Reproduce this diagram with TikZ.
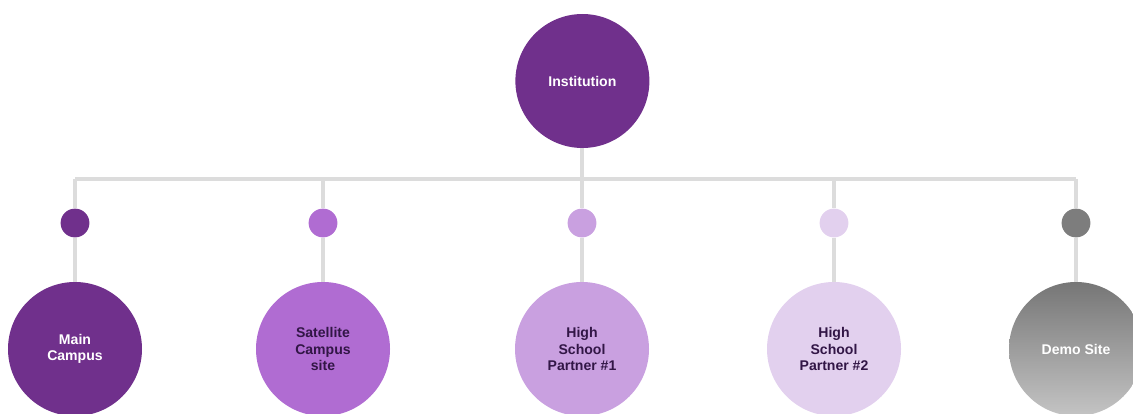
\documentclass[tikz,border=0pt]{standalone}
\usepackage{fontspec}
\setmainfont{Liberation Sans}
\usepackage{xcolor}
\usepackage{tikz}
\usetikzlibrary{positioning, backgrounds, calc}
\definecolor{darkpurple}{RGB}{112,48,140}
\definecolor{midpurple}{RGB}{176,108,210}
\definecolor{softpurple}{RGB}{201,160,224}
\definecolor{palepurple}{RGB}{226,208,238}
\definecolor{demotop}{RGB}{118,118,118}
\definecolor{demobottom}{RGB}{196,196,196}
\definecolor{demodot}{RGB}{125,125,125}
\definecolor{buscolor}{RGB}{220,220,220}
\definecolor{inktext}{RGB}{50,22,70}
\tikzset{
  site/.style={circle, minimum size=3.35cm, inner sep=0pt, align=center,
               font=\fontsize{10}{11.5}\selectfont\bfseries},
  dot/.style={circle, minimum size=0.72cm, inner sep=0pt},
  bus/.style={draw=buscolor, line width=2.8pt},
}

\begin{document}
\begin{tikzpicture}
\useasboundingbox (0,0) rectangle (28.325,10.325);
\clip (0,0) rectangle (28.325,10.325);

% Korzeń drzewa
\node[site, fill=darkpurple, text=white] (inst) at (14.56, 8.30) {Institution};

% Kropki nad poszczególnymi lokalizacjami
\node[dot, fill=darkpurple] (maindot) at (1.875, 4.75) {};
\node[dot, fill=midpurple] (satdot) at (8.075, 4.75) {};
\node[dot, fill=softpurple] (hs1dot) at (14.55, 4.75) {};
\node[dot, fill=palepurple] (hs2dot) at (20.85, 4.75) {};
\node[dot, fill=demodot] (demodot) at (26.9, 4.75) {};

% Lokalizacje
\node[site, fill=darkpurple, text=white] (main) at (1.875, 1.60) {Main\\Campus};
\node[site, fill=midpurple, text=inktext] (sat) at (8.075, 1.60) {Satellite\\Campus\\site};
\node[site, fill=softpurple, text=inktext] (hs1) at (14.55, 1.60) {High\\School\\Partner \#1};
\node[site, fill=palepurple, text=inktext] (hs2) at (20.85, 1.60) {High\\School\\Partner \#2};
\node[site, top color=demotop, bottom color=demobottom, text=white] (demo) at (26.9, 1.60) {Demo Site};

\coordinate (busL) at (1.875, 5.85);
\coordinate (busR) at (26.9, 5.85);

% Szyna i odgałęzienia (pod kołami)
\begin{scope}[on background layer]
\draw[bus] (busL) -- (busR);
\draw[bus] (inst) -- (inst |- busL);
\draw[bus] (maindot |- busL) -- (maindot) -- (main);
\draw[bus] (satdot |- busL) -- (satdot) -- (sat);
\draw[bus] (hs1dot |- busL) -- (hs1dot) -- (hs1);
\draw[bus] (hs2dot |- busL) -- (hs2dot) -- (hs2);
\draw[bus] (demodot |- busL) -- (demodot) -- (demo);
\end{scope}
\end{tikzpicture}
\end{document}
